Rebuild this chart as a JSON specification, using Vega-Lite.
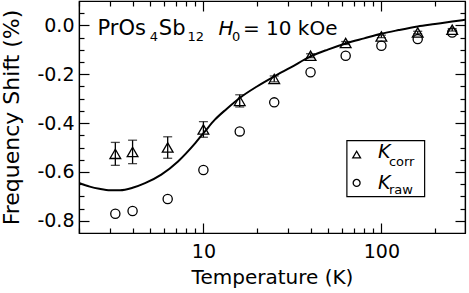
{
  "$schema": "https://vega.github.io/schema/vega-lite/v6.json",
  "width": 386,
  "height": 232,
  "autosize": {"type": "none"},
  "padding": {"left": 79, "top": 1, "right": 4, "bottom": 60},
  "background": "white",
  "config": {
    "view": {"stroke": "black", "strokeWidth": 1.2},
    "font": "DejaVu Sans",
    "axis": {
      "grid": false,
      "domainColor": "black",
      "domainWidth": 1.2,
      "tickColor": "black",
      "tickWidth": 1.2,
      "labelColor": "black",
      "titleColor": "black",
      "labelFont": "DejaVu Sans",
      "titleFont": "DejaVu Sans",
      "labelFontSize": 19,
      "titleFontSize": 20,
      "titleFontWeight": "normal"
    }
  },
  "datasets": {
    "curve": [
      {"T": 2.0, "v": -0.645}, {"T": 2.3, "v": -0.660}, {"T": 2.6, "v": -0.669},
      {"T": 3.0, "v": -0.675}, {"T": 3.4, "v": -0.675}, {"T": 4.0, "v": -0.665},
      {"T": 4.7, "v": -0.646}, {"T": 5.8, "v": -0.611}, {"T": 7.2, "v": -0.557},
      {"T": 9.0, "v": -0.482}, {"T": 10.2, "v": -0.434}, {"T": 11.6, "v": -0.386},
      {"T": 13.5, "v": -0.342}, {"T": 16, "v": -0.297}, {"T": 20, "v": -0.25},
      {"T": 25, "v": -0.209}, {"T": 31, "v": -0.172}, {"T": 40, "v": -0.127},
      {"T": 50, "v": -0.099}, {"T": 63, "v": -0.074}, {"T": 80, "v": -0.053},
      {"T": 100, "v": -0.034}, {"T": 125, "v": -0.019}, {"T": 160, "v": -0.004},
      {"T": 200, "v": 0.006}, {"T": 250, "v": 0.016}, {"T": 295, "v": 0.023}
    ],
    "corr": [
      {"T": 3.2, "v": -0.526, "err": 0.047},
      {"T": 4.0, "v": -0.518, "err": 0.048},
      {"T": 6.3, "v": -0.500, "err": 0.044},
      {"T": 10, "v": -0.426, "err": 0.032},
      {"T": 16, "v": -0.309, "err": 0.025},
      {"T": 25, "v": -0.219, "err": 0.012},
      {"T": 40, "v": -0.124, "err": 0.008},
      {"T": 63, "v": -0.072, "err": 0.006},
      {"T": 100, "v": -0.045, "err": 0.005},
      {"T": 160, "v": -0.029, "err": 0.005},
      {"T": 250, "v": -0.018, "err": 0.005}
    ],
    "raw": [
      {"T": 3.2, "v": -0.771}, {"T": 4.0, "v": -0.760}, {"T": 6.3, "v": -0.711},
      {"T": 10, "v": -0.592}, {"T": 16, "v": -0.434}, {"T": 25, "v": -0.315},
      {"T": 40, "v": -0.192}, {"T": 63, "v": -0.124}, {"T": 100, "v": -0.083},
      {"T": 160, "v": -0.056}, {"T": 250, "v": -0.029}
    ],
    "legbox": [{"T": 64, "T2": 175, "v": -0.472, "v2": -0.701}],
    "legtri": [{"T": 72.6, "v": -0.529}],
    "legcirc": [{"T": 72.6, "v": -0.645}],
    "mainText": [
      {"s": "PrOs", "T": 2.54, "v": -0.038},
      {"s": "Sb", "T": 5.62, "v": -0.038}
    ],
    "eqText": [
      {"s": "= 10 kOe", "T": 16.67, "v": -0.038}
    ],
    "subText": [
      {"s": "4", "T": 5.0, "v": -0.0655},
      {"s": "12", "T": 8.13, "v": -0.0655},
      {"s": "0", "T": 14.46, "v": -0.064}
    ],
    "italText": [
      {"s": "H", "T": 12.14, "v": -0.038}
    ],
    "legK": [
      {"s": "K", "T": 95.6, "v": -0.543},
      {"s": "K", "T": 95.6, "v": -0.670}
    ],
    "legSub": [
      {"s": "corr", "T": 110.2, "v": -0.5745},
      {"s": "raw", "T": 110.2, "v": -0.689}
    ]
  },
  "layer": [
    {
      "data": {"name": "curve"},
      "mark": {"type": "line", "color": "black", "strokeWidth": 2, "interpolate": "monotone", "clip": true},
      "encoding": {
        "x": {
          "field": "T", "type": "quantitative",
          "scale": {"type": "log", "domain": [2, 295], "nice": false},
          "axis": {
            "orient": "bottom",
            "title": "Temperature (K)",
            "values": [2, 3, 4, 5, 6, 7, 8, 9, 10, 20, 30, 40, 50, 60, 70, 80, 90, 100, 200],
            "format": "~g",
            "labelExpr": "(datum.value == 10 || datum.value == 100) ? datum.label : ''",
            "labelOverlap": false,
            "labelFlush": false,
            "tickSize": {"condition": {"test": "datum.value == 10 || datum.value == 100", "value": -10}, "value": -5},
            "labelPadding": 19,
            "titlePadding": 1
          }
        },
        "y": {
          "field": "v", "type": "quantitative",
          "scale": {"domain": [-0.85, 0.1], "nice": false, "zero": false},
          "axis": {
            "orient": "left",
            "title": "Frequency Shift (%)",
            "titleFontSize": 22,
            "values": [-0.8, -0.75, -0.7, -0.65, -0.6, -0.55, -0.5, -0.45, -0.4, -0.35, -0.3, -0.25, -0.2, -0.15, -0.1, -0.05, 0, 0.05],
            "labelExpr": "abs(datum.value * 5 - round(datum.value * 5)) < 0.001 ? (datum.value < -0.001 ? '-' + format(-datum.value, '.1f') : format(abs(datum.value), '.1f')) : ''",
            "labelOverlap": false,
            "labelFlush": false,
            "tickSize": {"condition": {"test": "abs(datum.value * 5 - round(datum.value * 5)) < 0.001", "value": -10}, "value": -5},
            "labelPadding": 15,
            "titlePadding": 13
          }
        }
      }
    },
    {
      "data": {"name": "corr"},
      "mark": {"type": "errorbar", "ticks": {"size": 9, "thickness": 1.3, "color": "black"}, "rule": {"strokeWidth": 1.3, "color": "black"}, "color": "black"},
      "encoding": {
        "x": {"field": "T", "type": "quantitative", "scale": {"type": "log", "domain": [2, 295], "nice": false}, "axis": null},
        "y": {"field": "v", "type": "quantitative", "scale": {"domain": [-0.85, 0.1], "nice": false, "zero": false}, "axis": null},
        "yError": {"field": "err"}
      }
    },
    {
      "data": {"name": "corr"},
      "mark": {"type": "point", "shape": "triangle-up", "size": 115, "filled": false, "stroke": "black", "strokeWidth": 1.3, "opacity": 1},
      "encoding": {
        "x": {"field": "T", "type": "quantitative", "scale": {"type": "log", "domain": [2, 295], "nice": false}, "axis": null},
        "y": {"field": "v", "type": "quantitative", "scale": {"domain": [-0.85, 0.1], "nice": false, "zero": false}, "axis": null}
      }
    },
    {
      "data": {"name": "raw"},
      "mark": {"type": "point", "shape": "circle", "size": 85, "filled": false, "stroke": "black", "strokeWidth": 1.3, "opacity": 1},
      "encoding": {
        "x": {
          "field": "T", "type": "quantitative",
          "scale": {"type": "log", "domain": [2, 295], "nice": false},
          "axis": {
            "orient": "top",
            "title": null,
            "labels": false,
            "values": [2, 3, 4, 5, 6, 7, 8, 9, 10, 20, 30, 40, 50, 60, 70, 80, 90, 100, 200],
            "tickSize": {"condition": {"test": "datum.value == 10 || datum.value == 100", "value": -10}, "value": -5}
          }
        },
        "y": {
          "field": "v", "type": "quantitative",
          "scale": {"domain": [-0.85, 0.1], "nice": false, "zero": false},
          "axis": {
            "orient": "right",
            "title": null,
            "labels": false,
            "values": [-0.8, -0.75, -0.7, -0.65, -0.6, -0.55, -0.5, -0.45, -0.4, -0.35, -0.3, -0.25, -0.2, -0.15, -0.1, -0.05, 0, 0.05],
            "tickSize": {"condition": {"test": "abs(datum.value * 5 - round(datum.value * 5)) < 0.001", "value": -10}, "value": -5}
          }
        }
      }
    },
    {
      "data": {"name": "legbox"},
      "mark": {"type": "rect", "fill": "white", "stroke": "black", "strokeWidth": 1.2},
      "encoding": {
        "x": {"field": "T", "type": "quantitative", "scale": {"type": "log", "domain": [2, 295], "nice": false}, "axis": null},
        "x2": {"field": "T2"},
        "y": {"field": "v", "type": "quantitative", "scale": {"domain": [-0.85, 0.1], "nice": false, "zero": false}, "axis": null},
        "y2": {"field": "v2"}
      }
    },
    {
      "data": {"name": "legtri"},
      "mark": {"type": "point", "shape": "triangle-up", "size": 60, "filled": false, "stroke": "black", "strokeWidth": 1.3, "opacity": 1},
      "encoding": {
        "x": {"field": "T", "type": "quantitative", "scale": {"type": "log", "domain": [2, 295], "nice": false}, "axis": null},
        "y": {"field": "v", "type": "quantitative", "scale": {"domain": [-0.85, 0.1], "nice": false, "zero": false}, "axis": null}
      }
    },
    {
      "data": {"name": "legcirc"},
      "mark": {"type": "point", "shape": "circle", "size": 48, "filled": false, "stroke": "black", "strokeWidth": 1.3, "opacity": 1},
      "encoding": {
        "x": {"field": "T", "type": "quantitative", "scale": {"type": "log", "domain": [2, 295], "nice": false}, "axis": null},
        "y": {"field": "v", "type": "quantitative", "scale": {"domain": [-0.85, 0.1], "nice": false, "zero": false}, "axis": null}
      }
    },
    {
      "data": {"name": "mainText"},
      "mark": {"type": "text", "align": "left", "baseline": "alphabetic", "fontSize": 21, "font": "DejaVu Sans", "color": "black"},
      "encoding": {
        "x": {"field": "T", "type": "quantitative", "scale": {"type": "log", "domain": [2, 295], "nice": false}, "axis": null},
        "y": {"field": "v", "type": "quantitative", "scale": {"domain": [-0.85, 0.1], "nice": false, "zero": false}, "axis": null},
        "text": {"field": "s"}
      }
    },
    {
      "data": {"name": "eqText"},
      "mark": {"type": "text", "align": "left", "baseline": "alphabetic", "fontSize": 20, "font": "DejaVu Sans", "color": "black"},
      "encoding": {
        "x": {"field": "T", "type": "quantitative", "scale": {"type": "log", "domain": [2, 295], "nice": false}, "axis": null},
        "y": {"field": "v", "type": "quantitative", "scale": {"domain": [-0.85, 0.1], "nice": false, "zero": false}, "axis": null},
        "text": {"field": "s"}
      }
    },
    {
      "data": {"name": "subText"},
      "mark": {"type": "text", "align": "left", "baseline": "alphabetic", "fontSize": 13, "font": "DejaVu Sans", "color": "black"},
      "encoding": {
        "x": {"field": "T", "type": "quantitative", "scale": {"type": "log", "domain": [2, 295], "nice": false}, "axis": null},
        "y": {"field": "v", "type": "quantitative", "scale": {"domain": [-0.85, 0.1], "nice": false, "zero": false}, "axis": null},
        "text": {"field": "s"}
      }
    },
    {
      "data": {"name": "italText"},
      "mark": {"type": "text", "align": "left", "baseline": "alphabetic", "fontSize": 20, "fontStyle": "italic", "font": "DejaVu Sans", "color": "black"},
      "encoding": {
        "x": {"field": "T", "type": "quantitative", "scale": {"type": "log", "domain": [2, 295], "nice": false}, "axis": null},
        "y": {"field": "v", "type": "quantitative", "scale": {"domain": [-0.85, 0.1], "nice": false, "zero": false}, "axis": null},
        "text": {"field": "s"}
      }
    },
    {
      "data": {"name": "legK"},
      "mark": {"type": "text", "align": "left", "baseline": "alphabetic", "fontSize": 19, "fontStyle": "italic", "font": "DejaVu Sans", "color": "black"},
      "encoding": {
        "x": {"field": "T", "type": "quantitative", "scale": {"type": "log", "domain": [2, 295], "nice": false}, "axis": null},
        "y": {"field": "v", "type": "quantitative", "scale": {"domain": [-0.85, 0.1], "nice": false, "zero": false}, "axis": null},
        "text": {"field": "s"}
      }
    },
    {
      "data": {"name": "legSub"},
      "mark": {"type": "text", "align": "left", "baseline": "alphabetic", "fontSize": 13, "font": "DejaVu Sans", "color": "black"},
      "encoding": {
        "x": {"field": "T", "type": "quantitative", "scale": {"type": "log", "domain": [2, 295], "nice": false}, "axis": null},
        "y": {"field": "v", "type": "quantitative", "scale": {"domain": [-0.85, 0.1], "nice": false, "zero": false}, "axis": null},
        "text": {"field": "s"}
      }
    }
  ],
  "resolve": {"axis": {"x": "independent", "y": "independent"}}
}
